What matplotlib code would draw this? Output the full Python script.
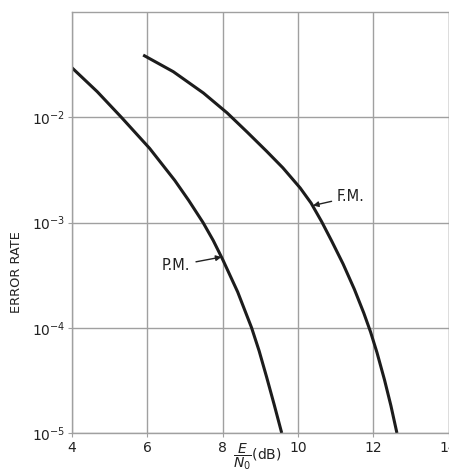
import matplotlib
matplotlib.use("Agg")
import matplotlib.pyplot as plt
from matplotlib.ticker import FixedLocator, NullLocator

# Data
pm_x = [4.0, 4.67, 5.31, 6.06, 6.73, 7.1, 7.48, 7.75, 8.0, 8.4, 8.77, 8.97, 9.17, 9.37, 9.57]
pm_y = [2.95e-2, 1.75e-2, 1.0e-2, 5.07e-3, 2.51e-3, 1.62e-3, 1.0e-3, 6.76e-4, 4.47e-4,
        2.19e-4, 1.0e-4, 6.03e-5, 3.39e-5, 1.86e-5, 1.0e-5]

fm_x = [5.89, 6.69, 7.49, 8.12, 8.65, 9.17, 9.6, 10.06, 10.35, 10.63, 10.9, 11.2, 11.5,
        11.75, 11.93, 12.1, 12.3, 12.47, 12.63]
fm_y = [3.9e-2, 2.71e-2, 1.70e-2, 1.10e-2, 7.24e-3, 4.75e-3, 3.31e-3, 2.13e-3, 1.53e-3,
        1.02e-3, 6.64e-4, 4.04e-4, 2.32e-4, 1.38e-4, 9.12e-5, 5.82e-5, 3.2e-5, 1.82e-5, 1.0e-5]

x_ticks = [4, 6, 8, 10, 12, 14]
x_ticklabels = ["4", "6", "8", "10", "12", "14"]
y_ticks = [1e-5, 1e-4, 1e-3, 1e-2]
y_ticklabels = [r"$10^{-5}$", r"$10^{-4}$", r"$10^{-3}$", r"$10^{-2}$"]

W, H = 449, 476
fig = plt.figure(figsize=(W / 100, H / 100), dpi=100)
fig.patch.set_facecolor("white")
ax = fig.add_axes([72 / W, 1 - 433 / H, (448.5 - 72) / W, (433 - 12) / H])

ax.set_yscale("log")
ax.set_xlim(4, 14)
ax.set_ylim(1e-5, 1e-1)

grid_c = "#a0a0a0"
ax.xaxis.set_major_locator(FixedLocator(x_ticks))
ax.yaxis.set_major_locator(FixedLocator(y_ticks))
ax.yaxis.set_minor_locator(NullLocator())
ax.set_xticklabels(x_ticklabels)
ax.set_yticklabels(y_ticklabels)
ax.grid(True, which="major", color=grid_c, lw=1.0)
for s in ax.spines.values():
    s.set_color(grid_c)
    s.set_linewidth(1.0)
ax.tick_params(axis="both", length=3, color=grid_c, labelsize=10, labelcolor="#222222")
ax.tick_params(axis="y", pad=2)
ax.tick_params(axis="x", pad=3)

ax.plot(pm_x, pm_y, color="#1c1c1c", lw=2.2, solid_capstyle="butt", solid_joinstyle="round")
ax.plot(fm_x, fm_y, color="#1c1c1c", lw=2.2, solid_capstyle="butt", solid_joinstyle="round")

ax.annotate("P.M.", xy=(7.97, 4.7e-4), xytext=(6.39, 3.9e-4),
            fontsize=10.5, color="#222222", va="center", ha="left",
            arrowprops=dict(arrowstyle="-|>", color="#222222", lw=1.0,
                            mutation_scale=8, shrinkA=2, shrinkB=0))
ax.annotate("F.M.", xy=(10.4, 1.45e-3), xytext=(11.04, 1.75e-3),
            fontsize=10.5, color="#222222", va="center", ha="left",
            arrowprops=dict(arrowstyle="-|>", color="#222222", lw=1.0,
                            mutation_scale=8, shrinkA=2, shrinkB=0))

fig.text(17 / W, 1 - 272 / H, "ERROR RATE", rotation=90, fontsize=9.3,
         color="#222222", ha="center", va="center")
fig.text(233 / W, 1 - 457 / H, r"$\dfrac{E}{N_0}$(dB)", fontsize=10,
         color="#222222", ha="left", va="center")

fig.savefig("out.png", dpi=100, facecolor="white")
